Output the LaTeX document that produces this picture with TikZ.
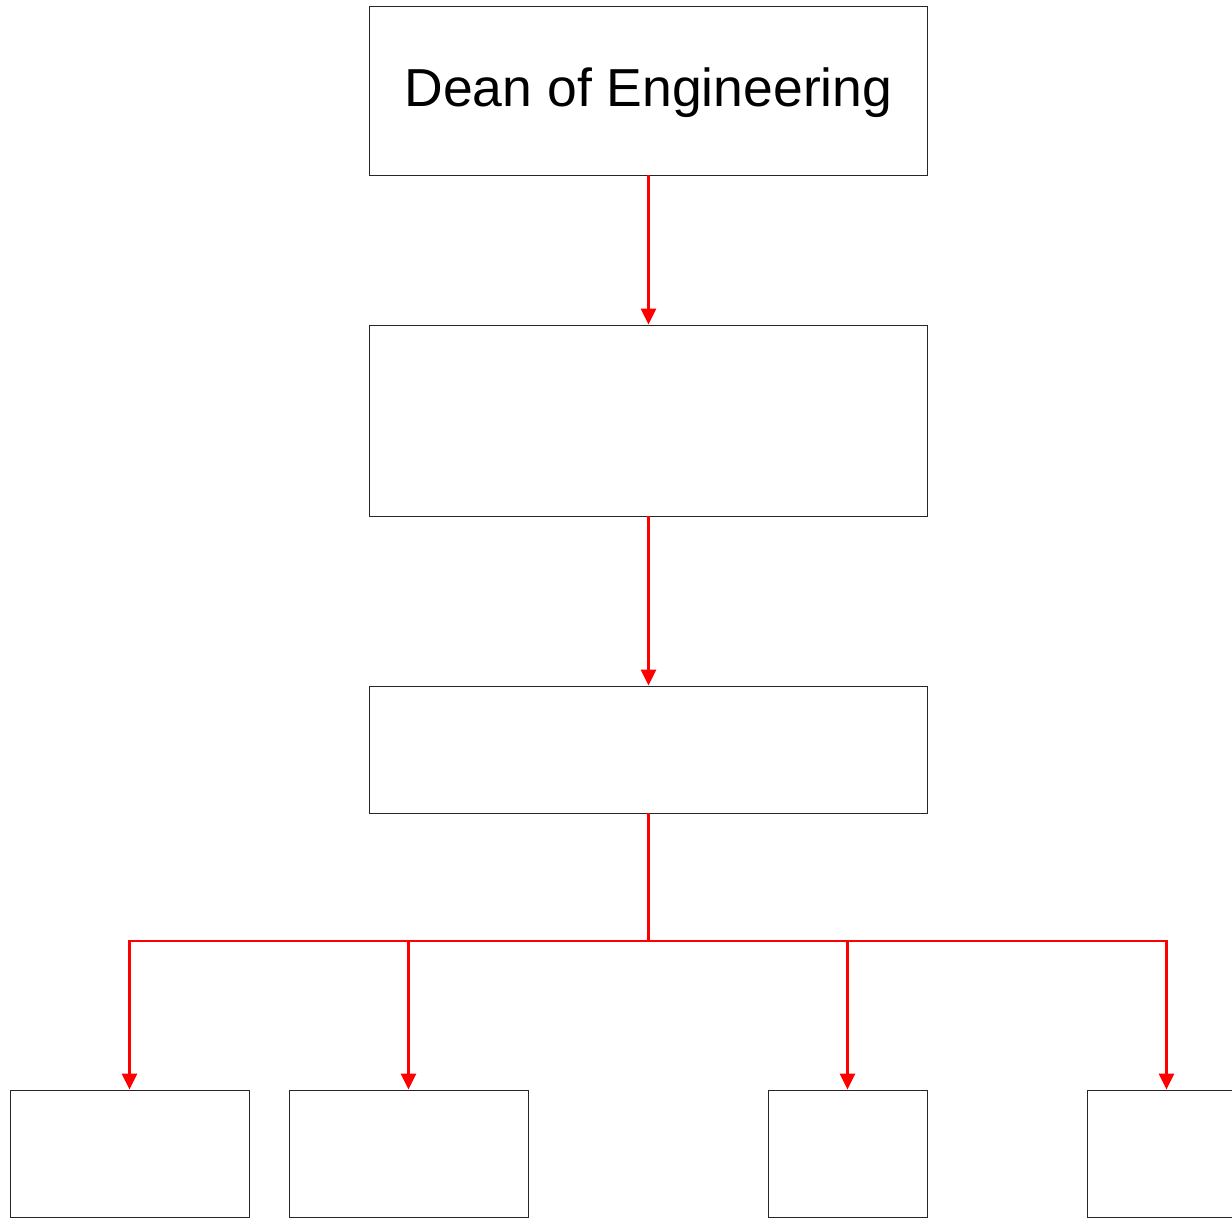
\documentclass[tikz,border=0pt]{standalone}
\usepackage{fontspec}
\setmainfont{Liberation Sans}
\usetikzlibrary{arrows.meta}

\tikzset{x=1pt, y=-1pt}
\tikzset{orgbox/.style={draw=black!85, line width=0.8pt, inner sep=0pt, fill=white},
         link/.style={draw=red, line width=2.4pt, -{Triangle[length=16pt,width=15pt]}}}

\begin{document}
\begin{tikzpicture}
\clip (0,0) rectangle (1232,1220); % page size
\node[orgbox, minimum width=558, minimum height=169] (dean) at (648.5,90.5)
  {\raisebox{-16.5pt}[0pt][0pt]{\fontsize{53.5}{58}\selectfont Dean of Engineering}};
\node[orgbox, minimum width=558, minimum height=191] (dept) at (648.5,420.5) {};
\node[orgbox, minimum width=558, minimum height=127] (unit) at (648.5,749.5) {};
\foreach \n/\x/\w in {s1/129.5/239, s2/408.5/239, s3/847.5/159, s4/1166.5/159} % bottom row
\node[orgbox, minimum width=\w, minimum height=127] (\n) at (\x,1153.5) {};
\coordinate (bus) at (648.5,941);
\draw[link] (dean) -- (dept);
\draw[link] (dept) -- (unit);
\foreach \n in {s1,s2,s3,s4}
\draw[link] (unit.south) -- (bus) -| (\n.north);
\end{tikzpicture}
\end{document}
